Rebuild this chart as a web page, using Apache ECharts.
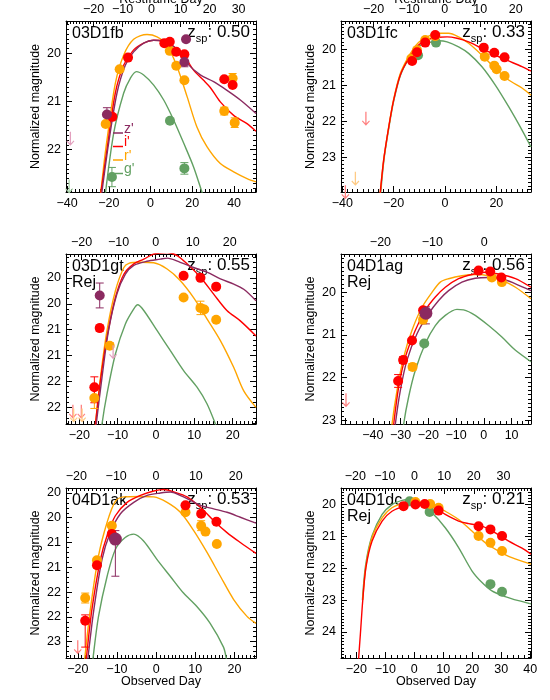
<!DOCTYPE html>
<html>
<head>
<meta charset="utf-8">
<script src="https://cdn.jsdelivr.net/npm/echarts@6/dist/echarts.min.js"></script>
<style>
  html, body { margin: 0; padding: 0; background: #fff; }
  #chart { width: 550px; height: 700px; }
</style>
</head>
<body>
<div id="chart"></div>
<script>
// points: [observed day, magnitude, error up, error down]
// curves: [observed day, magnitude]
// limits: [observed day, magnitude] (upper limit arrows)

// 03D1fb
const fb_z_pts = [[-20.9, 21.27, 0.14, 0.14], [17.0, 19.71, 0, 0], [16.2, 20.18, 0.1, 0.1]];
const fb_i_pts = [[-18.3, 21.32, 0.05, 0.05], [-10.8, 20.09, 0, 0], [6.6, 19.79, 0, 0], [9.2, 19.76, 0, 0],
  [12.3, 19.97, 0, 0], [16.2, 20.02, 0, 0], [35.3, 20.54, 0, 0], [39.3, 20.66, 0, 0]];
const fb_r_pts = [[-21.5, 21.47, 0, 0], [-14.8, 20.33, 0, 0], [9.2, 19.95, 0, 0], [12.3, 20.26, 0, 0],
  [16.2, 20.56, 0, 0], [35.3, 21.20, 0.08, 0.08], [39.3, 20.52, 0.1, 0.1], [40.3, 21.44, 0.1, 0.1]];
const fb_g_pts = [[-18.5, 22.57, 0.2, 0.2], [9.3, 21.40, 0, 0], [16.2, 22.39, 0.12, 0.12]];
const fb_z_lim = [[-38.4, 21.63]];
const fb_g_lim = [[-39.0, 22.62]];
const fb_z_curve = [[-24.5, 23.3], [-23.3, 22.88], [-20.1, 21.87], [-16.1, 20.83], [-12.1, 20.25], [-8.1, 19.97],
  [-3.3, 19.79], [1.5, 19.73], [6.3, 19.76], [11.1, 19.86], [17.5, 20.21], [23.8, 20.45], [30.2, 20.59],
  [36.6, 20.77], [43.0, 20.97], [50.5, 21.25]];
const fb_i_curve = [[-24.8, 23.2], [-20.9, 22.01], [-16.9, 20.83], [-12.9, 20.25], [-8.1, 19.93], [-3.3, 19.79],
  [1.5, 19.73], [6.3, 19.74], [11.1, 19.86], [15.9, 20.04], [20.6, 20.35], [25.4, 20.56], [28.6, 20.71],
  [33.4, 21.01], [39.8, 21.29], [46.2, 21.46], [50.5, 21.62]];
const fb_r_curve = [[-24.6, 23.2], [-22.5, 22.36], [-20.9, 21.81], [-16.9, 20.63], [-12.9, 20.04], [-8.1, 19.71],
  [-1.7, 19.61], [3.1, 19.66], [7.9, 19.83], [12.7, 20.28], [17.5, 20.90], [22.2, 21.53], [27.0, 21.94],
  [33.4, 22.29], [39.8, 22.46], [46.2, 22.60], [50.5, 22.67]];
const fb_g_curve = [[-22.4, 23.2], [-17.7, 21.67], [-12.9, 20.83], [-9.7, 20.52], [-6.8, 20.38], [-3.3, 20.45],
  [1.5, 20.66], [6.3, 20.97], [11.1, 21.39], [15.9, 21.87], [20.6, 22.36], [24.6, 22.88], [25.5, 23.0]];

// 03D1fc
const fc_i_pts = [[-12.8, 20.33, 0, 0], [-10.9, 20.09, 0, 0], [-7.7, 19.82, 0, 0], [-3.8, 19.61, 0, 0],
  [15.1, 19.96, 0, 0], [19.2, 20.10, 0, 0], [23.2, 20.23, 0, 0]];
const fc_r_pts = [[-13.1, 20.26, 0, 0], [-10.9, 20.03, 0, 0], [-7.7, 19.75, 0, 0], [-3.8, 19.64, 0, 0],
  [15.5, 20.21, 0, 0], [19.2, 20.46, 0, 0], [20.1, 20.56, 0, 0], [23.2, 20.75, 0, 0]];
const fc_g_pts = [[-10.5, 20.17, 0, 0], [-3.5, 19.82, 0, 0]];
const fc_i_lim = [[-30.8, 21.74], [-38.8, 23.78]];
const fc_r_lim = [[-34.9, 23.41]];
const fc_i_curve = [[-25.6, 24.3], [-25.2, 23.97], [-23.9, 23.09], [-21.9, 22.16], [-20.0, 21.42], [-17.4, 20.72],
  [-14.1, 20.26], [-10.3, 19.89], [-6.4, 19.73], [-2.5, 19.67], [0.8, 19.66], [4.7, 19.70], [9.2, 19.80],
  [14.4, 19.98], [19.6, 20.17], [24.8, 20.33], [30.0, 20.49], [33.5, 20.61]];
const fc_r_curve = [[-25.6, 24.3], [-23.9, 23.09], [-21.9, 22.16], [-20.0, 21.40], [-17.4, 20.68], [-14.1, 20.20],
  [-10.3, 19.82], [-6.4, 19.64], [-2.5, 19.56], [1.4, 19.56], [5.3, 19.66], [9.2, 19.84], [14.4, 20.17],
  [19.6, 20.54], [24.8, 20.86], [30.0, 21.08], [33.5, 21.28]];
const fc_g_curve = [[-25.4, 24.3], [-23.8, 23.09], [-21.8, 22.16], [-19.9, 21.42], [-17.3, 20.72], [-14.0, 20.26],
  [-10.3, 19.93], [-6.4, 19.82], [-2.5, 19.77], [0.8, 19.80], [5.3, 19.94], [9.2, 20.12], [14.4, 20.49],
  [19.6, 21.00], [24.8, 21.60], [30.0, 22.25], [33.5, 22.72]];

// 03D1gt
const gt_z_pts = [[-14.7, 20.34, 0.24, 0.24]];
const gt_i_pts = [[-16.1, 22.11, 0.2, 0.3], [-14.7, 20.97, 0.06, 0.06], [7.2, 19.96, 0, 0], [11.6, 20.0, 0, 0],
  [15.7, 20.17, 0, 0]];
const gt_r_pts = [[-16.1, 22.32, 0.2, 0.2], [-12.1, 21.31, 0.06, 0.06], [7.2, 20.38, 0, 0],
  [11.6, 20.58, 0.13, 0.13], [12.6, 20.61, 0, 0], [15.7, 20.81, 0, 0]];
const gt_z_lim = [[-11.2, 21.3]];
const gt_i_lim = [[-21.7, 22.45], [-19.5, 22.45]];
const gt_r_lim = [[-21.5, 22.52], [-19.3, 22.52]];
const gt_z_curve = [[-15.9, 23.1], [-15.6, 22.82], [-14.1, 21.92], [-12.4, 21.02], [-10.2, 20.31], [-8.0, 19.93],
  [-5.8, 19.76], [-2.4, 19.68], [1.1, 19.64], [2.9, 19.62], [6.3, 19.70], [9.8, 19.80], [13.3, 19.89],
  [16.8, 20.02], [20.3, 20.12], [22.9, 20.22], [26.1, 20.44]];
const gt_i_curve = [[-16.1, 23.1], [-15.8, 22.82], [-14.5, 21.98], [-12.8, 21.15], [-10.6, 20.38], [-8.4, 19.93],
  [-5.8, 19.73], [-3.2, 19.64], [-0.6, 19.54], [2.9, 19.51], [5.5, 19.57], [8.1, 19.73], [11.6, 19.99],
  [15.0, 20.31], [18.5, 20.63], [22.0, 20.83], [26.1, 21.12]];
const gt_r_curve = [[-16.1, 23.1], [-15.8, 22.82], [-14.5, 21.92], [-12.8, 21.02], [-10.6, 20.25], [-8.4, 19.80],
  [-7.1, 19.72], [-4.1, 19.70], [-0.6, 19.71], [2.9, 19.83], [6.3, 20.05], [9.8, 20.38], [13.3, 20.79],
  [16.8, 21.21], [20.3, 21.73], [22.9, 22.18], [26.1, 22.5]];
const gt_g_curve = [[-14.4, 23.1], [-14.1, 22.82], [-12.8, 22.24], [-10.6, 21.47], [-8.0, 20.89], [-5.8, 20.60],
  [-4.8, 20.52], [-3.2, 20.63], [0.3, 21.02], [3.7, 21.40], [7.2, 21.79], [10.7, 22.11], [13.3, 22.43],
  [15.5, 22.82], [15.8, 22.9]];

// 04D1ag
const ag_z_pts = [[-20.9, 20.49, 0.15, 0.25]];
const ag_i_pts = [[-30.9, 22.08, 0.15, 0.15], [-29.1, 21.59, 0.08, 0.08], [-25.9, 21.13, 0, 0],
  [-21.9, 20.42, 0, 0], [-1.9, 19.49, 0, 0], [2.3, 19.51, 0, 0], [6.3, 19.65, 0, 0]];
const ag_r_pts = [[-25.7, 21.75, 0.08, 0.08], [-21.9, 20.64, 0.1, 0.1], [2.9, 19.65, 0, 0], [6.5, 19.76, 0, 0]];
const ag_g_pts = [[-21.5, 21.2, 0, 0]];
const ag_i_lim = [[-49.7, 22.37]];
const ag_z_curve = [[-32.4, 23.5], [-31.9, 23.09], [-30.1, 22.3], [-27.7, 21.59], [-24.1, 20.97], [-19.9, 20.5],
  [-16.3, 20.19], [-12.7, 19.96], [-7.9, 19.76], [-3.1, 19.67], [1.7, 19.65], [6.5, 19.68], [11.4, 19.8],
  [17.0, 19.96]];
const ag_i_curve = [[-33.0, 23.5], [-32.5, 23.09], [-30.7, 22.22], [-28.3, 21.52], [-24.7, 20.89], [-21.1, 20.42],
  [-17.5, 20.11], [-13.9, 19.88], [-9.1, 19.68], [-4.3, 19.58], [0.5, 19.53], [5.3, 19.57], [11.4, 19.68],
  [17.0, 19.88]];
const ag_r_curve = [[-33.6, 23.5], [-33.1, 23.09], [-31.3, 22.3], [-28.9, 21.52], [-25.9, 20.89], [-22.3, 20.35],
  [-18.7, 20.0], [-15.7, 19.76], [-12.7, 19.68], [-7.9, 19.61], [-3.1, 19.58], [1.7, 19.61], [6.5, 19.72],
  [11.4, 19.88], [17.0, 20.15]];
const ag_g_curve = [[-29.4, 23.5], [-28.9, 23.09], [-27.1, 22.45], [-24.7, 21.83], [-21.1, 21.2], [-17.5, 20.78],
  [-13.9, 20.54], [-9.7, 20.4], [-7.3, 20.41], [-3.1, 20.54], [1.7, 20.78], [6.5, 21.05], [11.4, 21.36],
  [17.0, 21.63]];

// 04D1ak
const ak_z_pts = [[-10.4, 20.93, 0.17, 0.75]];
const ak_i_pts = [[-18.1, 22.58, 0.12, 0.53], [-15.1, 21.46, 0.05, 0.05], [-11.3, 20.83, 0.05, 0.05],
  [7.5, 20.25, 0, 0], [11.5, 20.42, 0, 0], [15.4, 20.58, 0, 0]];
const ak_r_pts = [[-18.1, 22.12, 0.1, 0.1], [-15.1, 21.36, 0.05, 0.05], [-11.3, 20.66, 0, 0], [7.5, 20.39, 0, 0],
  [11.5, 20.66, 0.1, 0.1], [12.6, 20.78, 0, 0], [15.5, 21.03, 0, 0]];
const ak_i_lim = [[-20.0, 22.97]];
const ak_z_curve = [[-17.7, 23.6], [-17.4, 23.33], [-15.9, 22.36], [-13.8, 21.34], [-11.7, 20.80], [-9.1, 20.42],
  [-5.7, 20.19], [-2.3, 20.05], [1.1, 20.0], [3.6, 19.98], [7.0, 20.08], [11.3, 20.25], [14.7, 20.32],
  [18.1, 20.39], [21.5, 20.49], [25.5, 20.61]];
const ak_i_curve = [[-18.1, 23.6], [-17.8, 23.33], [-16.4, 22.36], [-14.2, 21.34], [-12.5, 20.86], [-10.4, 20.46],
  [-7.4, 20.19], [-4.0, 20.05], [-0.6, 19.96], [2.0, 19.93], [4.5, 19.98], [7.9, 20.08], [11.3, 20.29],
  [14.7, 20.56], [18.1, 20.8], [21.5, 21.0], [25.5, 21.22]];
const ak_r_curve = [[-18.5, 23.6], [-18.2, 23.33], [-16.8, 22.36], [-14.7, 21.27], [-12.5, 20.59], [-10.4, 20.17],
  [-8.3, 20.08], [-4.0, 20.07], [-0.6, 20.08], [2.8, 20.19], [6.2, 20.39], [9.6, 20.76], [13.0, 21.20],
  [16.4, 21.68], [19.8, 22.15], [23.2, 22.49], [25.5, 22.63]];
const ak_g_curve = [[-16.4, 23.6], [-16.1, 23.33], [-14.7, 22.49], [-12.5, 21.68], [-10.4, 21.14], [-7.9, 20.9],
  [-5.7, 20.83], [-3.2, 20.97], [0.2, 21.34], [3.6, 21.68], [7.0, 22.02], [10.4, 22.29], [13.8, 22.63],
  [17.2, 23.11], [17.9, 23.33], [18.2, 23.5]];

// 04D1dc
const dc_i_pts = [[-3.7, 20.05, 0, 0], [0.4, 20.0, 0, 0], [3.6, 19.98, 0, 0], [8.4, 20.19, 0, 0],
  [22.2, 20.68, 0, 0], [26.3, 20.78, 0, 0], [30.3, 20.99, 0, 0]];
const dc_r_pts = [[0.4, 19.92, 0, 0], [5.5, 19.98, 0, 0], [8.4, 20.10, 0, 0], [22.2, 20.99, 0, 0],
  [26.3, 21.2, 0, 0], [30.3, 21.46, 0, 0]];
const dc_g_pts = [[-1.6, 19.9, 0, 0], [5.3, 20.23, 0, 0], [26.3, 22.50, 0, 0], [30.3, 22.74, 0, 0]];
const dc_i_curve = [[-19.4, 25.2], [-19.2, 24.82], [-18.6, 24.06], [-17.8, 23.02], [-16.7, 21.98], [-14.6, 21.15],
  [-11.1, 20.52], [-7.7, 20.21], [-3.1, 20.05], [1.5, 19.98], [6.1, 20.05], [10.7, 20.31], [15.3, 20.52],
  [18.8, 20.60], [23.4, 20.68], [28.0, 20.89], [32.6, 21.15], [37.2, 21.37], [40.3, 21.56]];
const dc_r_curve = [[-17.8, 23.0], [-16.7, 21.94], [-14.6, 21.04], [-11.1, 20.42], [-7.7, 20.10], [-3.1, 19.95],
  [1.5, 19.92], [6.1, 20.0], [10.7, 20.21], [15.3, 20.47], [19.9, 20.83], [24.5, 21.2], [29.1, 21.46],
  [33.7, 21.67], [40.3, 21.87]];
const dc_g_curve = [[-17.9, 23.0], [-16.8, 21.9], [-14.6, 20.99], [-11.1, 20.31], [-7.7, 20.0], [-4.2, 19.87],
  [-1.9, 19.84], [1.5, 19.95], [6.1, 20.26], [10.7, 20.73], [15.3, 21.35], [19.9, 22.08], [23.4, 22.45],
  [26.8, 22.71], [31.4, 22.89], [36.0, 23.02], [40.3, 23.12]];

// bottom-axis labels of 04D1ag start at -40
const ag_x_labels = [-40, -30, -20, -10, 0, 10];

const FONT = '"Liberation Sans", Arial, Helvetica, sans-serif';
const COL = { z: '#8B2A60', i: '#FF0000', r: '#FFA500', g: '#62A062' };
const FADED = { z: '#E3A0BE', i: '#FF8080', r: '#FFCB85', g: '#A9D3A9' };
const ORDER = ['g', 'r', 'i', 'z'];
const ARROW = 'path://M4.2,0 L5.8,0 L5.8,16 L9,12.2 L10,13.3 L5,19.5 L0,13.3 L1,12.2 L4.2,16 Z';

const GRID_LEFT = [66, 341];
const GRID_TOP = [21, 254, 488];
const GRID_H = [171, 170, 170];
const GRID_W = 190;

const PANELS = [
  { name: '03D1fb', zsp: '0.50', rej: false, col: 0, row: 0, legend: true,
    x: [-40.5, 50.5], xMajor: 20, xMinor: 2, top: [-29.5, 36], topMajor: 10, topMinor: 1,
    y: [19.33, 22.88], yMajor: 1, yFloor: false,
    curves: { z: fb_z_curve, i: fb_i_curve, r: fb_r_curve, g: fb_g_curve },
    pts: { z: fb_z_pts, i: fb_i_pts, r: fb_r_pts, g: fb_g_pts },
    lims: { z: fb_z_lim, g: fb_g_lim } },
  { name: '03D1fc', zsp: '0.33', rej: false, col: 1, row: 0,
    x: [-40.5, 33.5], xMajor: 20, xMinor: 2, top: [-29.2, 24.3], topMajor: 10, topMinor: 1,
    y: [19.22, 23.97], yMajor: 1, yFloor: false,
    curves: { i: fc_i_curve, r: fc_r_curve, g: fc_g_curve },
    pts: { i: fc_i_pts, r: fc_r_pts, g: fc_g_pts },
    lims: { i: fc_i_lim, r: fc_r_lim } },
  { name: '03D1gt', zsp: '0.55', rej: true, col: 0, row: 1,
    x: [-23.5, 26.1], xMajor: 10, xMinor: 1, top: [-24.2, 27.1], topMajor: 10, topMinor: 1,
    y: [19.54, 22.82], yMajor: 0.5, yFloor: true,
    curves: { z: gt_z_curve, i: gt_i_curve, r: gt_r_curve, g: gt_g_curve },
    pts: { z: gt_z_pts, i: gt_i_pts, r: gt_r_pts },
    lims: { z: gt_z_lim, i: gt_i_lim, r: gt_r_lim } },
  { name: '04D1ag', zsp: '0.56', rej: true, col: 1, row: 1, bigZ: true, xLabels: ag_x_labels,
    x: [-51.5, 17], xMajor: 10, xMinor: 2, top: [-27.6, 9.0], topMajor: 10, topMinor: 1,
    y: [19.1, 23.09], yMajor: 1, yFloor: false,
    curves: { z: ag_z_curve, i: ag_i_curve, r: ag_r_curve, g: ag_g_curve },
    pts: { z: ag_z_pts, i: ag_i_pts, r: ag_r_pts, g: ag_g_pts },
    lims: { i: ag_i_lim } },
  { name: '04D1ak', zsp: '0.53', rej: false, col: 0, row: 2, bigZ: true, bottomName: true,
    x: [-23, 25.5], xMajor: 10, xMinor: 1, top: [-22.6, 25.1], topMajor: 10, topMinor: 1,
    y: [19.9, 23.33], yMajor: 0.5, yFloor: true,
    curves: { z: ak_z_curve, i: ak_i_curve, r: ak_r_curve, g: ak_g_curve },
    pts: { z: ak_z_pts, i: ak_i_pts, r: ak_r_pts },
    lims: { i: ak_i_lim } },
  { name: '04D1dc', zsp: '0.21', rej: true, col: 1, row: 2, bottomName: true,
    x: [-25.3, 40.3], xMajor: 10, xMinor: 2, top: [-24.8, 39.3], topMajor: 10, topMinor: 1,
    y: [19.48, 24.82], yMajor: 1, yFloor: false,
    curves: { i: dc_i_curve, r: dc_r_curve, g: dc_g_curve },
    pts: { i: dc_i_pts, r: dc_r_pts, g: dc_g_pts },
    lims: {} }
];

function stepTicks(min, max, step) {
  const out = [];
  const s = Math.ceil(min / step - 1e-9);
  for (let k = s; k * step <= max + 1e-9; k++) out.push(+(k * step).toFixed(4));
  return out;
}

function fmtNum(v, floor) {
  const n = floor ? Math.floor(v + 1e-6) : Math.round(v);
  return n < 0 ? '\u2212' + Math.abs(n) : String(n);
}

function axisDef(gi, position, range, step, major, opts) {
  const vals = stepTicks(range[0], range[1], step);
  return {
    gridIndex: gi, type: 'value', position: position,
    min: range[0], max: range[1], inverse: !!opts.inverse,
    axisLine: { show: major, onZero: false, lineStyle: { color: '#000', width: 1 } },
    axisTick: { show: true, inside: true, length: major ? 6 : 3, customValues: vals,
      lineStyle: { color: '#000', width: 1 } },
    axisLabel: { show: major && !!opts.label, customValues: opts.labels || vals,
      formatter: (v) => fmtNum(v, opts.floor),
      color: '#000', fontSize: 12.5, fontFamily: FONT, margin: 5 },
    splitLine: { show: false },
    minorTick: { show: false },
    axisPointer: { show: false }
  };
}

// error bar with caps
function errRender(params, api) {
  const x = api.value(0), y = api.value(1), up = api.value(2), dn = api.value(3);
  if (!up && !dn) return;
  const a = api.coord([x, y - up]);
  const b = api.coord([x, y + dn]);
  const hw = 4;
  const style = { stroke: api.visual('color'), lineWidth: 1 };
  return {
    type: 'group',
    children: [
      { type: 'line', shape: { x1: a[0], y1: a[1], x2: b[0], y2: b[1] }, style: style },
      { type: 'line', shape: { x1: a[0] - hw, y1: a[1], x2: a[0] + hw, y2: a[1] }, style: style },
      { type: 'line', shape: { x1: b[0] - hw, y1: b[1], x2: b[0] + hw, y2: b[1] }, style: style }
    ]
  };
}

const option = {
  animation: false,
  backgroundColor: '#fff',
  grid: [], xAxis: [], yAxis: [], series: [], graphic: []
};

PANELS.forEach((pn, p) => {
  const left = GRID_LEFT[pn.col], top = GRID_TOP[pn.row], h = GRID_H[pn.row];
  option.grid.push({ left: left, top: top, width: GRID_W, height: h, containLabel: false });

  option.xAxis.push(axisDef(p, 'bottom', pn.x, pn.xMajor, true, { label: true, labels: pn.xLabels }));
  option.xAxis.push(axisDef(p, 'bottom', pn.x, pn.xMinor, false, {}));
  option.xAxis.push(axisDef(p, 'top', pn.top, pn.topMajor, true, { label: true }));
  option.xAxis.push(axisDef(p, 'top', pn.top, pn.topMinor, false, {}));
  option.yAxis.push(axisDef(p, 'left', pn.y, pn.yMajor, true, { label: true, inverse: true, floor: pn.yFloor }));
  option.yAxis.push(axisDef(p, 'left', pn.y, 0.1, false, { inverse: true }));
  option.yAxis.push(axisDef(p, 'right', pn.y, pn.yMajor, true, { inverse: true }));
  option.yAxis.push(axisDef(p, 'right', pn.y, 0.1, false, { inverse: true }));

  const ax = { xAxisIndex: 4 * p, yAxisIndex: 4 * p };

  ORDER.forEach((b) => {
    if (!pn.curves[b]) return;
    option.series.push(Object.assign({
      type: 'line', data: pn.curves[b], showSymbol: false, smooth: 0.3, silent: true, z: 2,
      lineStyle: { color: COL[b], width: 1.4 }, itemStyle: { color: COL[b] }
    }, ax));
  });

  ORDER.forEach((b) => {
    const pts = pn.pts[b];
    if (!pts) return;
    if (pts.some((d) => d[2] || d[3])) {
      option.series.push(Object.assign({
        type: 'custom', renderItem: errRender, data: pts, z: 3, silent: true,
        encode: { x: 0, y: 1 }, itemStyle: { color: COL[b] }
      }, ax));
    }
    option.series.push(Object.assign({
      type: 'scatter', data: pts.map((d) => [d[0], d[1]]), z: 4, silent: true,
      symbol: 'circle', symbolSize: (b === 'z' && pn.bigZ) ? 13 : 10,
      itemStyle: { color: COL[b], opacity: 1 }
    }, ax));
  });

  Object.keys(pn.lims).forEach((b) => {
    option.series.push(Object.assign({
      type: 'scatter', data: pn.lims[b], z: 4, silent: true,
      symbol: ARROW, symbolSize: [8, 14], symbolOffset: [0, '50%'],
      itemStyle: { color: FADED[b], opacity: 1 }
    }, ax));
  });

  // labels inside the panel
  option.graphic.push({
    type: 'text', x: left + 6, y: top + 5, z: 1,
    style: { text: pn.name, font: '16px ' + FONT, fill: '#000', verticalAlign: 'top', textVerticalAlign: 'top' }
  });
  if (pn.rej) {
    option.graphic.push({
      type: 'text', x: left + 6, y: top + 21, z: 1,
      style: { text: 'Rej', font: '16px ' + FONT, fill: '#000', verticalAlign: 'top', textVerticalAlign: 'top' }
    });
  }
  option.graphic.push({
    type: 'text', x: left + GRID_W - 6, y: top - 1, z: 1,
    style: {
      text: '{a|z}{s|sp}{a|: ' + pn.zsp + '}',
      align: 'right', textAlign: 'right', verticalAlign: 'top', textVerticalAlign: 'top',
      fill: '#000',
      rich: {
        a: { fontSize: 17, fontFamily: FONT, fill: '#000', color: '#000', lineHeight: 24, verticalAlign: 'middle' },
        s: { fontSize: 11, fontFamily: FONT, fill: '#000', color: '#000', lineHeight: 24, verticalAlign: 'bottom' }
      }
    }
  });

  // y axis title
  option.graphic.push({
    type: 'text', x: left - 30, y: top + h / 2, rotation: Math.PI / 2,
    style: { text: 'Normalized magnitude', font: '12.5px ' + FONT, fill: '#000',
      align: 'center', textAlign: 'center', verticalAlign: 'middle', textVerticalAlign: 'middle' }
  });
  if (pn.row === 0) {
    option.graphic.push({
      type: 'text', x: left + GRID_W / 2, y: -0.5,
      style: { text: 'Restframe Day', font: '12.5px ' + FONT, fill: '#000',
        align: 'center', textAlign: 'center', verticalAlign: 'middle', textVerticalAlign: 'middle' }
    });
  }
  if (pn.bottomName) {
    option.graphic.push({
      type: 'text', x: left + GRID_W / 2, y: top + h + 24,
      style: { text: 'Observed Day', font: '12.5px ' + FONT, fill: '#000',
        align: 'center', textAlign: 'center', verticalAlign: 'middle', textVerticalAlign: 'middle' }
    });
  }

  if (pn.legend) {
    ['z', 'i', 'r', 'g'].forEach((b, k) => {
      const ly = top + 112 + k * 13.5;
      option.graphic.push({
        type: 'line', z: 5,
        shape: { x1: left + 47, y1: ly, x2: left + 57, y2: ly },
        style: { stroke: COL[b], lineWidth: 1.5 }
      });
      option.graphic.push({
        type: 'text', x: left + 58, y: ly + 3, z: 5,
        style: { text: b + "'", font: '14px ' + FONT, fill: COL[b], verticalAlign: 'bottom', textVerticalAlign: 'bottom' }
      });
    });
  }
});

const chart = echarts.init(document.getElementById('chart'), null, { renderer: 'canvas' });
chart.setOption(option);
</script>
</body>
</html>
